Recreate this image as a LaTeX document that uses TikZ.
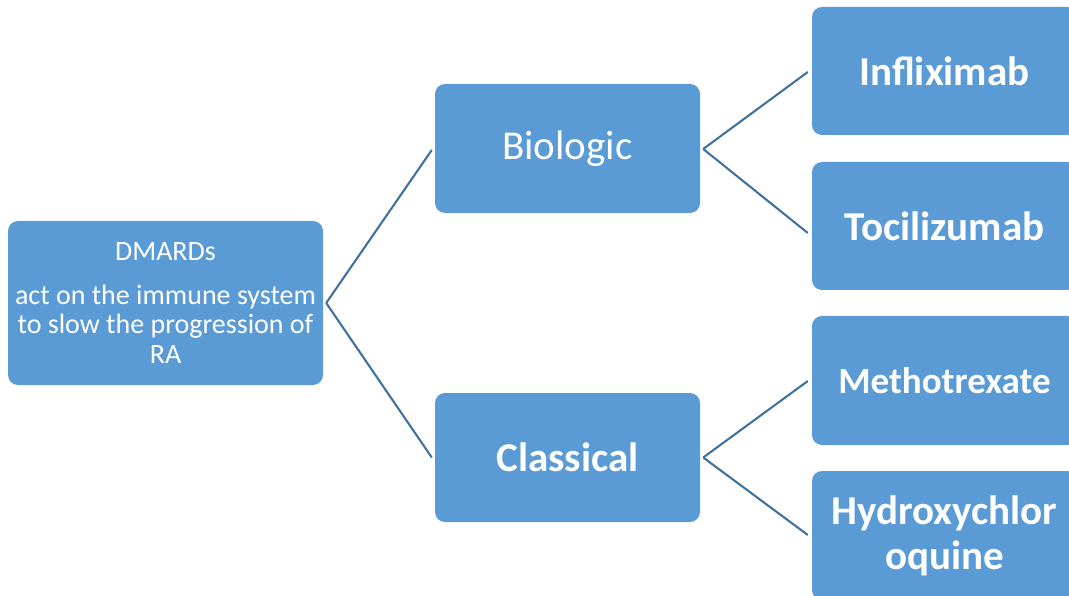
\documentclass[tikz,border=0pt]{standalone}
\usepackage{fontspec}
\setmainfont{Carlito}
\usetikzlibrary{calc}
\definecolor{boxblue}{HTML}{5B9BD5}
\definecolor{lineblue}{HTML}{41719C}
\tikzset{
  box/.style={draw=none, fill=boxblue, rounded corners=10pt, text=white, align=center, inner sep=2pt},
  bigtext/.style={font=\fontsize{41}{45}\selectfont},
  midtext/.style={font=\fontsize{37}{41}\selectfont},
  conn/.style={draw=lineblue, line width=2.1pt}
}
\begin{document}
\begin{tikzpicture}[x=1pt, y=-1pt]
\useasboundingbox (0,0) rectangle (1069,596);
\clip (0,0) rectangle (1069,596);
\node[box, minimum width=315pt, minimum height=164pt, font=\fontsize{28}{29.5}\selectfont] (dm) at (165.5,303)
  {DMARDs\\[14pt]act on the immune system\\to slow the progression of\\RA};
\node[box, bigtext, minimum width=265pt, minimum height=129pt] (bio) at (567.5,148.5) {Biologic};
\node[box, bigtext, minimum width=265pt, minimum height=129pt] (cla) at (567.5,457.5) {\bfseries Classical};
\node[box, bigtext, minimum width=265pt, minimum height=128pt] (inf) at (944.5,71) {\bfseries Infliximab};
\node[box, bigtext, minimum width=265pt, minimum height=128pt] (toc) at (944.5,226) {\bfseries Tocilizumab};
\node[box, midtext, minimum width=265pt, minimum height=129pt] (met) at (944.5,380.5) {\bfseries Methotrexate};
\node[box, bigtext, minimum width=265pt, minimum height=129pt] (hyd) at (944.5,535.5) {\bfseries Hydroxychlor\\\bfseries oquine};
\draw[conn] ($(dm.east)+(3,0)$) -- ($(bio.west)+(-3,1.5)$);
\draw[conn] ($(dm.east)+(3,0)$) -- ($(cla.west)+(-3,0)$);
\draw[conn] ($(bio.east)+(3,0.5)$) -- ($(inf.west)+(-4,1)$);
\draw[conn] ($(bio.east)+(3,0.5)$) -- ($(toc.west)+(-4,7)$);
\draw[conn] ($(cla.east)+(3,0)$) -- ($(met.west)+(-4,0.5)$);
\draw[conn] ($(cla.east)+(3,0)$) -- ($(hyd.west)+(-4,-0.5)$);
\end{tikzpicture}
\end{document}
